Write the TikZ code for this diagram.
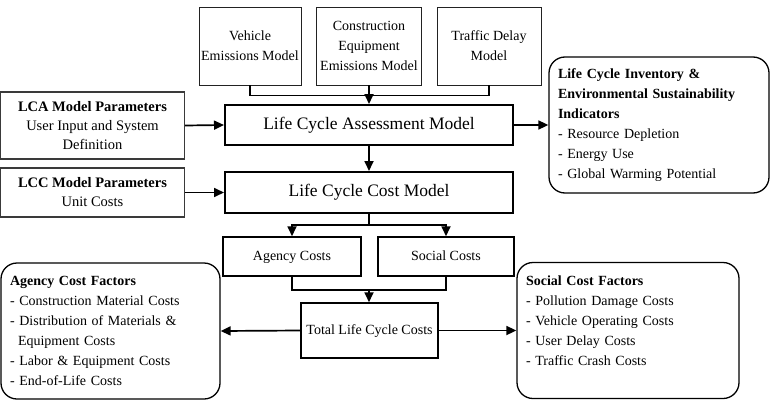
\documentclass[tikz,border=0pt]{standalone}
\usepackage{fontspec}
\setmainfont{Liberation Serif}
\usepackage{tikz}
\usetikzlibrary{arrows.meta,positioning,calc}
\definecolor{Edge}{HTML}{222222}
\definecolor{Soft}{HTML}{3A3A3A}

\begin{document}
\begin{tikzpicture}[x=1pt,y=-1pt,
  topbox/.style={draw=Edge,line width=0.9pt,inner sep=0pt,align=center,
    minimum height=78,font=\fontsize{14}{20}\selectfont},
  mainbox/.style={draw=black,line width=2pt,inner sep=0pt,minimum width=288,
    text height=12pt,text depth=4pt,font=\fontsize{17.5}{21}\selectfont},
  parbox/.style={draw=Soft,line width=1.3pt,inner sep=0pt,align=center,
    minimum width=184,font=\fontsize{14.5}{19}\selectfont},
  costbox/.style={draw=black,line width=1.5pt,inner sep=0pt,minimum height=39,
    text height=10pt,text depth=3pt,font=\fontsize{14}{18}\selectfont},
  factbox/.style={draw=black,line width=1.3pt,rounded corners=16pt,align=left,
    inner xsep=9pt,inner ysep=0pt,minimum height=136,
    font=\fontsize{14}{20}\selectfont},
  link/.style={line width=1.7pt},
  arrow/.style={link,-{Triangle[length=10pt,width=9pt]}}]
\useasboundingbox (0,0) rectangle (770,404);

\node[topbox,minimum width=102] (veh) at (250,46) {Vehicle\\Emissions Model};
\node[topbox,minimum width=105] (ceq) at (369,46) {Construction\\Equipment\\Emissions Model};
\node[topbox,minimum width=104] (tdm) at (489,46) {Traffic Delay\\Model};

\node[mainbox,minimum height=40] (lca) at (369,125) {Life Cycle Assessment Model};
\node[mainbox,minimum height=41] (lcc) at (369,192.5) {Life Cycle Cost Model};

\node[parbox,minimum height=67] (lcap) at (92.5,125.5)
  {\textbf{LCA Model Parameters}\\User Input and System\\Definition};
\node[parbox,minimum height=49] (lccp) at (92.5,192.5)
  {\textbf{LCC Model Parameters}\\Unit Costs};

\node[factbox,minimum width=220,text width=202] (lci) at (659,125)
  {\textbf{Life Cycle Inventory \&}\\\textbf{Environmental Sustainability}\\\textbf{Indicators}\\
   - Resource Depletion\\- Energy Use\\- Global Warming Potential};

\node[costbox,minimum width=138] (agc) at (292,256.5) {Agency Costs};
\node[costbox,minimum width=136] (soc) at (446,256.5) {Social Costs};
\node[costbox,minimum width=137,minimum height=55] (tot) at (369.5,330.5) {Total Life Cycle Costs};

\node[factbox,minimum width=219,text width=201] (afac) at (110.5,331)
  {\textbf{Agency Cost Factors}\\- Construction Material Costs\\- Distribution of Materials \&\\
   \hspace*{8pt}Equipment Costs\\- Labor \& Equipment Costs\\- End-of-Life Costs};
\node[factbox,minimum width=222,text width=204] (sfac) at (628,330.5)
  {\textbf{Social Cost Factors}\\- Pollution Damage Costs\\- Vehicle Operating Costs\\
   - User Delay Costs\\- Traffic Crash Costs\\~};

\draw[link] (veh.south) -- ++(0,10) -| (tdm.south);
\draw[arrow] (ceq.south) -- (lca.north);
\draw[arrow] (lca.south) -- (lcc.north);
\draw[arrow] (lcap.east) -- (lca.west);
\draw[arrow] (lccp.east) -- (lcc.west);
\draw[arrow] (lca.east) -- (lci.west);

\draw[link] (lcc.south) -- ++(0,11) coordinate (split);
\draw[arrow] (split) -| (agc.north);
\draw[arrow] (split) -| (soc.north);
\draw[link] (agc.south) -- ++(0,13) -| (soc.south);
\coordinate (join) at ($(agc.south)!0.5!(soc.south)+(0,13)$);
\draw[arrow] (join) -- (join |- tot.north);
\draw[arrow] (tot.west) -- (afac.east);
\draw[arrow] (tot.east) -- (sfac.west);
\end{tikzpicture}
\end{document}
